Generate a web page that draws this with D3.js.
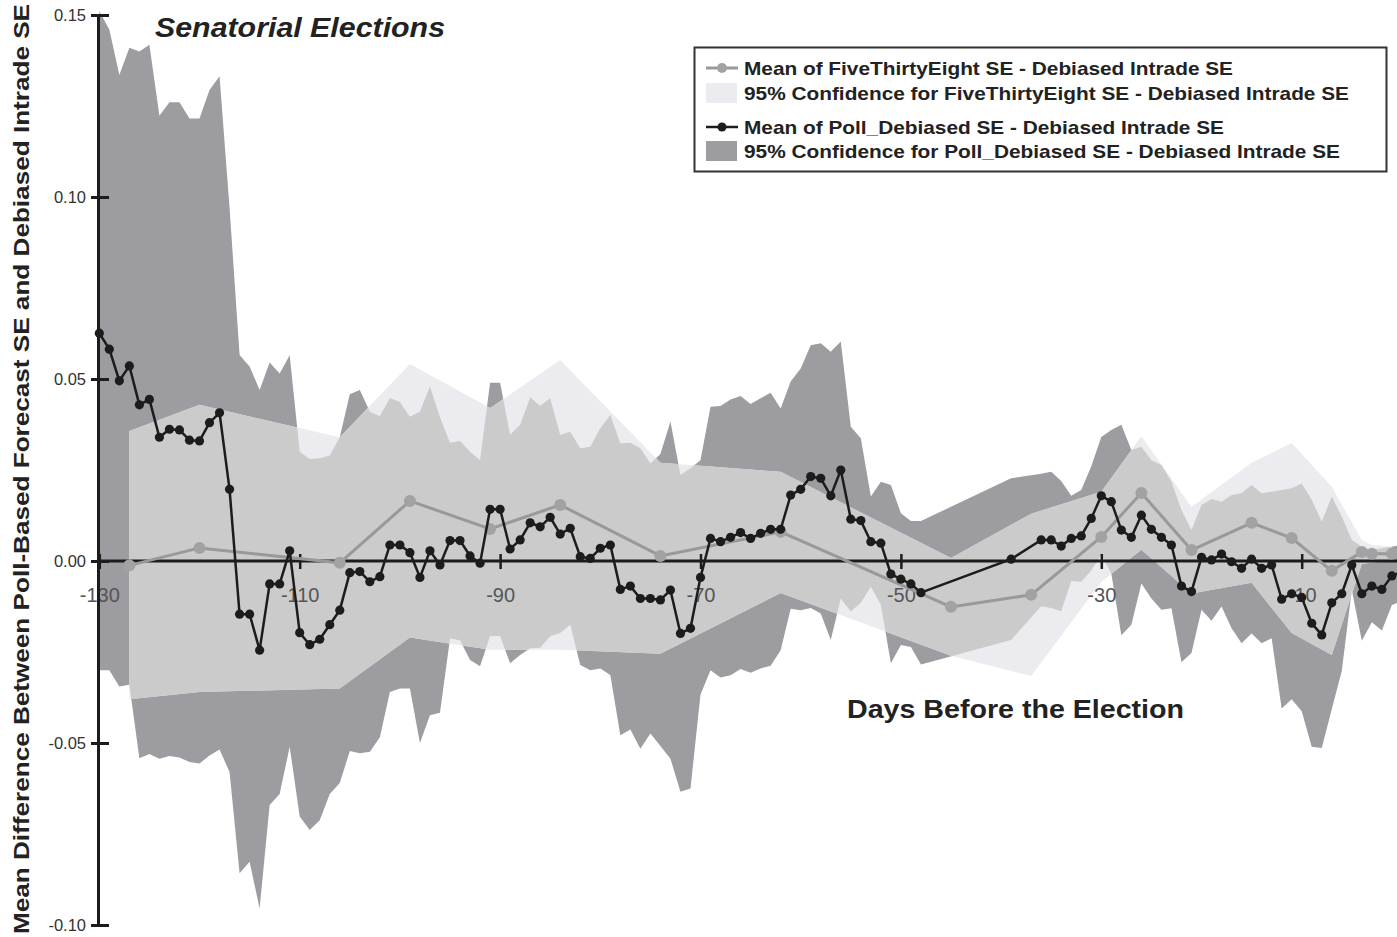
<!DOCTYPE html>
<html><head><meta charset="utf-8">
<script src="https://cdn.jsdelivr.net/npm/d3@7"></script>
<style>body{margin:0;background:#fff}svg{display:block}</style>
</head><body>
<svg id="c" width="1397" height="937"></svg>
<script>
// ---- data ----
const pollDays = [
 -130,-129,-128,-127,-126,-125,-124,-123,-122,-121,
 -120,-119,-118,-117,-116,-115,-114,-113,-112,-111,
 -110,-109,-108,-107,-106,-105,-104,-103,-102,-101,
 -100,-99,-98,-97,-96,-95,-94,-93,-92,-91,
 -90,-89,-88,-87,-86,-85,-84,-83,-82,-81,
 -80,-79,-78,-77,-76,-75,-74,-73,-72,-71,
 -70,-69,-68,-67,-66,-65,-64,-63,-62,-61,
 -60,-59,-58,-57,-56,-55,-54,-53,-52,-51,
 -50,-49,-48,
 -39,
 -36,-35,-34,-33,-32,-31,-30,-29,-28,-27,
 -26,-25,-24,-23,-22,-21,-20,-19,-18,-17,
 -16,-15,-14,-13,-12,-11,-10,-9,-8,-7,
 -6,-5,-4,-3,-2,-1,0];
const pollMean = [
 0.0626,0.0582,0.0495,0.0536,0.0429,0.0444,0.0340,0.0362,0.0360,0.0332,
 0.0330,0.0380,0.0407,0.0197,-0.0146,-0.0146,-0.0245,-0.0063,-0.0063,0.0028,
 -0.0197,-0.0230,-0.0215,-0.0175,-0.0135,-0.0032,-0.0029,-0.0057,-0.0043,0.0044,
 0.0044,0.0023,-0.0045,0.0028,-0.0011,0.0056,0.0056,0.0014,-0.0006,0.0142,
 0.0142,0.0033,0.0058,0.0105,0.0094,0.0120,0.0074,0.0090,0.0012,0.0007,
 0.0035,0.0044,-0.0078,-0.0069,-0.0103,-0.0103,-0.0107,-0.0080,-0.0199,-0.0185,
 -0.0045,0.0062,0.0053,0.0065,0.0078,0.0062,0.0076,0.0087,0.0087,0.0181,
 0.0197,0.0232,0.0227,0.0179,0.0250,0.0115,0.0111,0.0053,0.0049,-0.0036,
 -0.0050,-0.0063,-0.0087,
 0.0005,
 0.0058,0.0058,0.0041,0.0062,0.0069,0.0117,0.0179,0.0163,0.0085,0.0065,
 0.0126,0.0087,0.0065,0.0044,-0.0069,-0.0084,0.0010,0.0003,0.0019,-0.0002,
 -0.0020,0.0005,-0.0020,-0.0011,-0.0105,-0.0090,-0.0100,-0.0171,-0.0203,-0.0115,
 -0.0090,-0.0011,-0.0090,-0.0069,-0.0078,-0.0041,-0.0030];
const pollUpper = [
 0.151,0.146,0.1335,0.141,0.140,0.1418,0.1223,0.126,0.126,0.1216,
 0.1216,0.1294,0.1332,0.097,0.0566,0.0534,0.047,0.0545,0.0515,0.0565,
 0.030,0.028,0.0282,0.029,0.034,0.0458,0.047,0.041,0.0398,0.0448,
 0.0437,0.0396,0.041,0.048,0.0395,0.0325,0.033,0.030,0.0277,0.049,
 0.049,0.0347,0.0374,0.045,0.0426,0.0447,0.0346,0.0355,0.031,0.0314,
 0.0365,0.0401,0.0323,0.0325,0.031,0.0268,0.0294,0.0383,0.0236,0.0255,
 0.0277,0.0424,0.0426,0.0444,0.0453,0.0431,0.0447,0.0462,0.0419,0.0493,
 0.0529,0.0593,0.0598,0.0575,0.0603,0.0369,0.0337,0.0177,0.0218,0.0209,
 0.0131,0.011,0.011,
 0.0227,
 0.024,0.0245,0.022,0.0179,0.0195,0.026,0.0341,0.036,0.0374,0.0305,
 0.0314,0.0277,0.0264,0.0218,0.014,0.0085,0.0154,0.017,0.0163,0.0181,
 0.0186,0.0209,0.0186,0.019,0.0195,0.020,0.0213,0.0168,0.0108,0.0177,
 0.0122,0.0058,0.0039,0.003,0.0035,0.0039,0.0045];
const pollLower = [
 -0.030,-0.030,-0.0345,-0.034,-0.0542,-0.053,-0.0543,-0.0536,-0.054,-0.0552,
 -0.0556,-0.0534,-0.0518,-0.058,-0.0858,-0.0826,-0.0955,-0.067,-0.064,-0.051,
 -0.0702,-0.0739,-0.0712,-0.064,-0.061,-0.0522,-0.0528,-0.0524,-0.0484,-0.036,
 -0.035,-0.035,-0.050,-0.0424,-0.0417,-0.0213,-0.0218,-0.0272,-0.0289,-0.0206,
 -0.0206,-0.0281,-0.0258,-0.024,-0.0238,-0.0207,-0.0198,-0.0175,-0.0286,-0.030,
 -0.0295,-0.0313,-0.0479,-0.0463,-0.0516,-0.0474,-0.0508,-0.0543,-0.0634,-0.0625,
 -0.0367,-0.030,-0.032,-0.0314,-0.0297,-0.0307,-0.0295,-0.0288,-0.0245,-0.0131,
 -0.0135,-0.0129,-0.0144,-0.0217,-0.0103,-0.0139,-0.0115,-0.0071,-0.012,-0.0281,
 -0.0231,-0.0236,-0.0284,
 -0.0217,
 -0.0124,-0.0129,-0.0138,-0.0055,-0.0057,-0.0026,0.0017,-0.0034,-0.0204,-0.0175,
 -0.0062,-0.0103,-0.0134,-0.013,-0.0278,-0.0253,-0.0134,-0.0164,-0.0125,-0.0185,
 -0.0226,-0.0199,-0.0226,-0.0212,-0.0405,-0.038,-0.0413,-0.051,-0.0514,-0.0407,
 -0.0302,-0.008,-0.0219,-0.0168,-0.0191,-0.0121,-0.011];

const fteDays  = [-127,-120,-106,-99,-91,-84,-74,-62,-45,-37,-30,-26,-21,-15,-11,-7,-4,-3,-1];
const fteMean  = [-0.0012,0.0036,-0.0005,0.0165,0.0088,0.0154,0.0014,0.0080,-0.0126,-0.0093,0.0066,0.0187,0.0030,0.0105,0.0063,-0.0027,0.0025,0.0020,0.0020];
const fteUpper = [0.0357,0.0429,0.034,0.0541,0.042,0.0552,0.027,0.0245,0.0008,0.013,0.019,0.0343,0.0149,0.027,0.0324,0.0204,0.0058,0.0044,0.004];
const fteLower = [-0.038,-0.036,-0.035,-0.021,-0.0244,-0.0244,-0.0255,-0.0088,-0.026,-0.0316,-0.0058,0.0031,-0.0089,-0.006,-0.0198,-0.0258,-0.0008,-0.0004,0.0];

const xTicks = [-130,-110,-90,-70,-50,-30,-10];
const yTicks = [0.15,0.10,0.05,0.00,-0.05,-0.10];
const legendLabels = [
 "Mean of FiveThirtyEight SE - Debiased Intrade SE",
 "95% Confidence for FiveThirtyEight SE - Debiased Intrade SE",
 "Mean of Poll_Debiased SE - Debiased Intrade SE",
 "95% Confidence for Poll_Debiased SE - Debiased Intrade SE"];
const titleText = "Senatorial Elections";
const xTitle = "Days Before the Election";
const yTitle = "Mean Difference Between Poll-Based Forecast SE and Debiased Intrade SE";

// ---- drawing ----
const FONT = '"Liberation Sans", Arial, Helvetica, sans-serif';
const DARK='#9c9ca1', PALE='#ececf0', MID='#cbcbcc', GLINE='#999999', GDOT='#a2a2a4', BLACK='#1c1c1c';
const svg = d3.select('#c');
const x = d3.scaleLinear().domain([-130,0]).range([99.3,1401.9]);
const y = d3.scaleLinear().domain([-0.10,0.15]).range([925,15]);

const pIdx = d3.range(pollDays.length), fIdx = d3.range(fteDays.length);
const pollArea = d3.area().x(i=>x(pollDays[i])).y0(i=>y(pollLower[i])).y1(i=>y(pollUpper[i]));
const fteArea  = d3.area().x(i=>x(fteDays[i])).y0(i=>y(fteLower[i])).y1(i=>y(fteUpper[i]));

svg.append('defs').append('clipPath').attr('id','fteClip')
   .append('path').attr('d', fteArea(fIdx));
svg.append('path').attr('d', pollArea(pIdx)).attr('fill', DARK);
svg.append('path').attr('d', fteArea(fIdx)).attr('fill', PALE);
svg.append('path').attr('d', pollArea(pIdx)).attr('fill', MID).attr('clip-path','url(#fteClip)');

// x axis (zero line)
const xa = svg.append('g').attr('transform',`translate(0,${y(0)})`)
  .call(d3.axisBottom(x).tickValues(xTicks).tickFormat(d=>String(d)).tickSizeOuter(0));
xa.select('.domain').attr('stroke',BLACK).attr('stroke-width',3).attr('d',`M${x(-130)-2},0H1397`);
xa.selectAll('.tick line').attr('y1',-7).attr('y2',8).attr('stroke',BLACK).attr('stroke-width',2.5);
xa.selectAll('.tick text').attr('y',27).attr('dy','0.71em')
  .attr('fill','#555').style('font-family',FONT).style('font-size','20px');

// y axis
const ya = svg.append('g').attr('transform','translate(98,0)')
  .call(d3.axisLeft(y).tickValues(yTicks).tickFormat(d=>d.toFixed(2)).tickSizeOuter(0));
ya.select('.domain').attr('stroke',BLACK).attr('stroke-width',3);
ya.selectAll('.tick line').attr('x1',-7).attr('x2',11).attr('stroke',BLACK).attr('stroke-width',3);
ya.selectAll('.tick text').attr('x',-12).attr('fill','#333')
  .style('font-family',FONT).style('font-size','16.5px');

// 538 mean series
svg.append('path').attr('d', d3.line().x(i=>x(fteDays[i])).y(i=>y(fteMean[i]))(fIdx))
  .attr('fill','none').attr('stroke',GLINE).attr('stroke-width',3);
svg.append('g').selectAll('circle').data(fIdx).join('circle')
  .attr('cx',i=>x(fteDays[i])).attr('cy',i=>y(fteMean[i])).attr('r',6).attr('fill',GDOT);

// Poll mean series
svg.append('path').attr('d', d3.line().x(i=>x(pollDays[i])).y(i=>y(pollMean[i]))(pIdx))
  .attr('fill','none').attr('stroke',BLACK).attr('stroke-width',2.5);
svg.append('g').selectAll('circle').data(pIdx).join('circle')
  .attr('cx',i=>x(pollDays[i])).attr('cy',i=>y(pollMean[i])).attr('r',4.6).attr('fill',BLACK);

// titles
svg.append('text').attr('x',155).attr('y',37).text(titleText)
  .attr('textLength',290).attr('lengthAdjust','spacingAndGlyphs')
  .style('font-family',FONT).style('font-weight','bold').style('font-style','italic')
  .style('font-size','28px').attr('fill','#222');
svg.append('text').attr('x',847).attr('y',718).text(xTitle)
  .attr('textLength',337).attr('lengthAdjust','spacingAndGlyphs')
  .style('font-family',FONT).style('font-weight','bold').style('font-size','25px').attr('fill','#222');
svg.append('text').attr('transform','translate(29,469) rotate(-90)').attr('text-anchor','middle')
  .text(yTitle).attr('textLength',930).attr('lengthAdjust','spacingAndGlyphs')
  .style('font-family',FONT).style('font-weight','bold').style('font-size','22px').attr('fill','#222');

// legend
const lg = svg.append('g');
lg.append('rect').attr('x',694.5).attr('y',47.5).attr('width',692).attr('height',124)
  .attr('fill','#fff').attr('stroke','#333').attr('stroke-width',2);
const rowsY = [68,93,127,151];
const rowsW = [489,605,480,596];
lg.append('line').attr('x1',706).attr('x2',738).attr('y1',rowsY[0]).attr('y2',rowsY[0]).attr('stroke',GLINE).attr('stroke-width',3);
lg.append('circle').attr('cx',722).attr('cy',rowsY[0]).attr('r',5).attr('fill',GDOT);
lg.append('rect').attr('x',706).attr('y',rowsY[1]-10).attr('width',31).attr('height',20).attr('fill',PALE);
lg.append('line').attr('x1',706).attr('x2',738).attr('y1',rowsY[2]).attr('y2',rowsY[2]).attr('stroke',BLACK).attr('stroke-width',2.5);
lg.append('circle').attr('cx',722).attr('cy',rowsY[2]).attr('r',4.5).attr('fill',BLACK);
lg.append('rect').attr('x',706).attr('y',rowsY[3]-10).attr('width',31).attr('height',20).attr('fill',DARK);
lg.selectAll('text.lt').data(legendLabels).join('text').attr('class','lt')
  .attr('x',744).attr('y',(d,i)=>rowsY[i]+7).text(d=>d)
  .attr('textLength',(d,i)=>rowsW[i]).attr('lengthAdjust','spacingAndGlyphs')
  .style('font-family',FONT).style('font-weight','bold').style('font-size','18.5px').attr('fill','#222');
</script>
</body></html>
